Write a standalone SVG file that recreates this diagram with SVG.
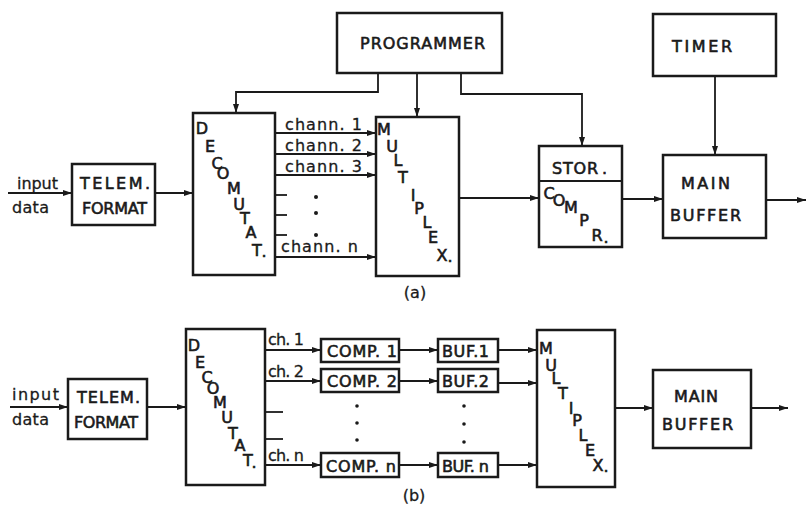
<svg xmlns="http://www.w3.org/2000/svg" width="808" height="513" viewBox="0 0 808 513">
<style>
.box{fill:#fff;stroke:#1a1a1a;stroke-width:2.5}
.ln{fill:none;stroke:#1a1a1a;stroke-width:1.8}
.arr{marker-end:url(#ah)}
.t{font-family:"DejaVu Sans","Liberation Sans",sans-serif;fill:#1a1a1a;stroke:#1a1a1a;stroke-width:0.6;font-size:16px}
.s{font-family:"DejaVu Sans","Liberation Sans",sans-serif;fill:#1a1a1a;stroke:#1a1a1a;stroke-width:0.3;font-size:16px}
.d{font-family:"DejaVu Sans","Liberation Sans",sans-serif;fill:#1a1a1a;stroke:#1a1a1a;stroke-width:0.6;font-size:16px;text-anchor:middle}
.dot{fill:#1a1a1a}
</style>
<defs>
<marker id="ah" markerUnits="userSpaceOnUse" markerWidth="10" markerHeight="8" refX="9" refY="4" orient="auto">
<path d="M0,1 L9,4 L0,7 Z" fill="#1a1a1a"/>
</marker>
</defs>
<rect width="808" height="513" fill="#fff"/>

<g id="connectors">
<!-- (a) -->
<line class="ln arr" x1="8" y1="193" x2="72" y2="193"/>
<line class="ln arr" x1="155" y1="193" x2="193" y2="193"/>
<polyline class="ln arr" points="378,73 378,92 236,92 236,113"/>
<line class="ln arr" x1="417" y1="73" x2="417" y2="117"/>
<polyline class="ln arr" points="461,73 461,94 582,94 582,146"/>
<line class="ln arr" x1="275" y1="133" x2="376" y2="133"/>
<line class="ln arr" x1="275" y1="154" x2="376" y2="154"/>
<line class="ln arr" x1="275" y1="175" x2="376" y2="175"/>
<line class="ln" x1="275" y1="195" x2="287" y2="195"/>
<line class="ln" x1="275" y1="215" x2="287" y2="215"/>
<line class="ln" x1="275" y1="235" x2="287" y2="235"/>
<line class="ln arr" x1="275" y1="257" x2="376" y2="257"/>
<line class="ln arr" x1="459" y1="198" x2="539" y2="198"/>
<line class="ln arr" x1="622" y1="199" x2="663" y2="199"/>
<line class="ln arr" x1="715" y1="76" x2="715" y2="155"/>
<line class="ln arr" x1="766" y1="200" x2="806" y2="200"/>
<!-- (b) -->
<line class="ln arr" x1="10" y1="407" x2="68" y2="407"/>
<line class="ln arr" x1="147" y1="407" x2="186" y2="407"/>
<line class="ln arr" x1="265" y1="350" x2="321" y2="350"/>
<line class="ln arr" x1="265" y1="381" x2="321" y2="381"/>
<line class="ln" x1="265" y1="412" x2="283" y2="412"/>
<line class="ln" x1="265" y1="439" x2="283" y2="439"/>
<line class="ln arr" x1="265" y1="465" x2="321" y2="465"/>
<line class="ln arr" x1="399" y1="350" x2="438" y2="350"/>
<line class="ln arr" x1="399" y1="381" x2="438" y2="381"/>
<line class="ln arr" x1="399" y1="465" x2="438" y2="465"/>
<line class="ln arr" x1="498" y1="350" x2="537" y2="350"/>
<line class="ln arr" x1="498" y1="383" x2="537" y2="383"/>
<line class="ln arr" x1="498" y1="465" x2="537" y2="465"/>
<line class="ln arr" x1="615" y1="408" x2="653" y2="408"/>
<line class="ln arr" x1="751" y1="408" x2="788" y2="408"/>
</g>

<g id="labels">
<text class="s" x="17" y="189" textLength="41" lengthAdjust="spacing">input</text>
<text class="s" x="12" y="213" textLength="37" lengthAdjust="spacing">data</text>
<text class="s" x="285" y="130" textLength="77" lengthAdjust="spacing">chann. 1</text>
<text class="s" x="285" y="151" textLength="77" lengthAdjust="spacing">chann. 2</text>
<text class="s" x="285" y="172" textLength="77" lengthAdjust="spacing">chann. 3</text>
<text class="s" x="281" y="252" textLength="77" lengthAdjust="spacing">chann. n</text>
<circle class="dot" cx="316" cy="197" r="2"/>
<circle class="dot" cx="316" cy="213" r="2"/>
<circle class="dot" cx="316" cy="235" r="2"/>
<text class="s" x="415" y="298" text-anchor="middle" font-size="18" stroke-width="0">(a)</text>

<text class="s" x="12" y="400" textLength="47" lengthAdjust="spacing">input</text>
<text class="s" x="12" y="425" textLength="37" lengthAdjust="spacing">data</text>
<text class="s" x="268" y="345" textLength="36" lengthAdjust="spacing">ch. 1</text>
<text class="s" x="268" y="377" textLength="36" lengthAdjust="spacing">ch. 2</text>
<text class="s" x="268" y="461" textLength="36" lengthAdjust="spacing">ch. n</text>
<circle class="dot" cx="357" cy="406" r="1.8"/>
<circle class="dot" cx="357" cy="423" r="1.8"/>
<circle class="dot" cx="357" cy="440" r="1.8"/>
<circle class="dot" cx="464" cy="406" r="1.8"/>
<circle class="dot" cx="464" cy="424" r="1.8"/>
<circle class="dot" cx="464" cy="442" r="1.8"/>
<text class="s" x="414" y="501" text-anchor="middle" font-size="18" stroke-width="0">(b)</text>
</g>

<g id="telem-a">
<rect class="box" x="72" y="164" width="83" height="61"/>
<text class="t" x="80" y="189" textLength="70" lengthAdjust="spacing">TELEM.</text>
<text class="t" x="82" y="214" textLength="65" lengthAdjust="spacing">FORMAT</text>
</g>
<g id="decomutat-a">
<rect class="box" x="193" y="113" width="82" height="162"/>
<text class="d" x="202 210 217 223 234 239 245 251 257" y="134 152 169 179 194 210 224 238 256">DECOMUTAT</text>
<text class="d" x="264" y="257">.</text>
</g>
<g id="programmer">
<rect class="box" x="337" y="13" width="165" height="60"/>
<text class="t" x="360" y="49" textLength="125" lengthAdjust="spacing">PROGRAMMER</text>
</g>
<g id="multiplex-a">
<rect class="box" x="376" y="117" width="83" height="159"/>
<text class="d" x="384 392 398 403 413 419 427 433 442" y="135 152 166 183 201 214 228 243 261">MULTIPLEX</text>
<text class="d" x="450" y="262">.</text>
</g>
<g id="stor-compr">
<rect class="box" x="539" y="146" width="83" height="101"/>
<line class="ln" x1="539" y1="181" x2="622" y2="181" stroke-width="2.2"/>
<text class="t" x="552" y="174" textLength="46" lengthAdjust="spacing">STOR</text>
<text class="t" x="602" y="174">.</text>
<text class="d" x="549 559 571 584 597" y="199 206 213 226 241">COMPR</text>
<text class="d" x="606" y="243">.</text>
</g>
<g id="timer">
<rect class="box" x="653" y="14" width="123" height="62"/>
<text class="t" x="672" y="52" textLength="60" lengthAdjust="spacing">TIMER</text>
</g>
<g id="main-buffer-a">
<rect class="box" x="663" y="155" width="103" height="83"/>
<text class="t" x="681" y="189" textLength="49" lengthAdjust="spacing">MAIN</text>
<text class="t" x="670" y="221" textLength="71" lengthAdjust="spacing">BUFFER</text>
</g>

<g id="telem-b">
<rect class="box" x="68" y="379" width="79" height="60"/>
<text class="t" x="77" y="403" textLength="63" lengthAdjust="spacing" font-size="15">TELEM.</text>
<text class="t" x="74" y="428" textLength="64" lengthAdjust="spacing" font-size="14.5">FORMAT</text>
</g>
<g id="decomutat-b">
<rect class="box" x="186" y="329" width="79" height="156"/>
<text class="d" x="194 200 207 213 220 227 233 240 248" y="351 368 383 394 408 423 439 451 466">DECOMUTAT</text>
<text class="d" x="254" y="468">.</text>
</g>
<g id="comp1">
<rect class="box" x="321" y="339" width="78" height="23"/>
<text class="t" x="327" y="357" textLength="70" lengthAdjust="spacing" font-size="15">COMP. 1</text>
</g>
<g id="comp2">
<rect class="box" x="321" y="369" width="78" height="23"/>
<text class="t" x="327" y="387" textLength="70" lengthAdjust="spacing" font-size="15">COMP. 2</text>
</g>
<g id="compn">
<rect class="box" x="321" y="453" width="78" height="24"/>
<text class="t" x="326" y="472" textLength="70" lengthAdjust="spacing" font-size="15">COMP. n</text>
</g>
<g id="buf1">
<rect class="box" x="438" y="339" width="60" height="23"/>
<text class="t" x="442" y="357" textLength="47" lengthAdjust="spacing" font-size="15">BUF.1</text>
</g>
<g id="buf2">
<rect class="box" x="438" y="369" width="60" height="23"/>
<text class="t" x="442" y="387" textLength="47" lengthAdjust="spacing" font-size="15">BUF.2</text>
</g>
<g id="bufn">
<rect class="box" x="438" y="453" width="60" height="24"/>
<text class="t" x="442" y="472" textLength="47" lengthAdjust="spacing" font-size="15">BUF. n</text>
</g>
<g id="multiplex-b">
<rect class="box" x="537" y="330" width="78" height="157"/>
<text class="d" x="546 551 556 563 571 577 583 590 598" y="354 371 384 399 414 426 441 456 471">MULTIPLEX</text>
<text class="d" x="606" y="472">.</text>
</g>
<g id="main-buffer-b">
<rect class="box" x="653" y="370" width="98" height="78"/>
<text class="t" x="674" y="402" textLength="44" lengthAdjust="spacing">MAIN</text>
<text class="t" x="662" y="430" textLength="71" lengthAdjust="spacing">BUFFER</text>
</g>
</svg>
